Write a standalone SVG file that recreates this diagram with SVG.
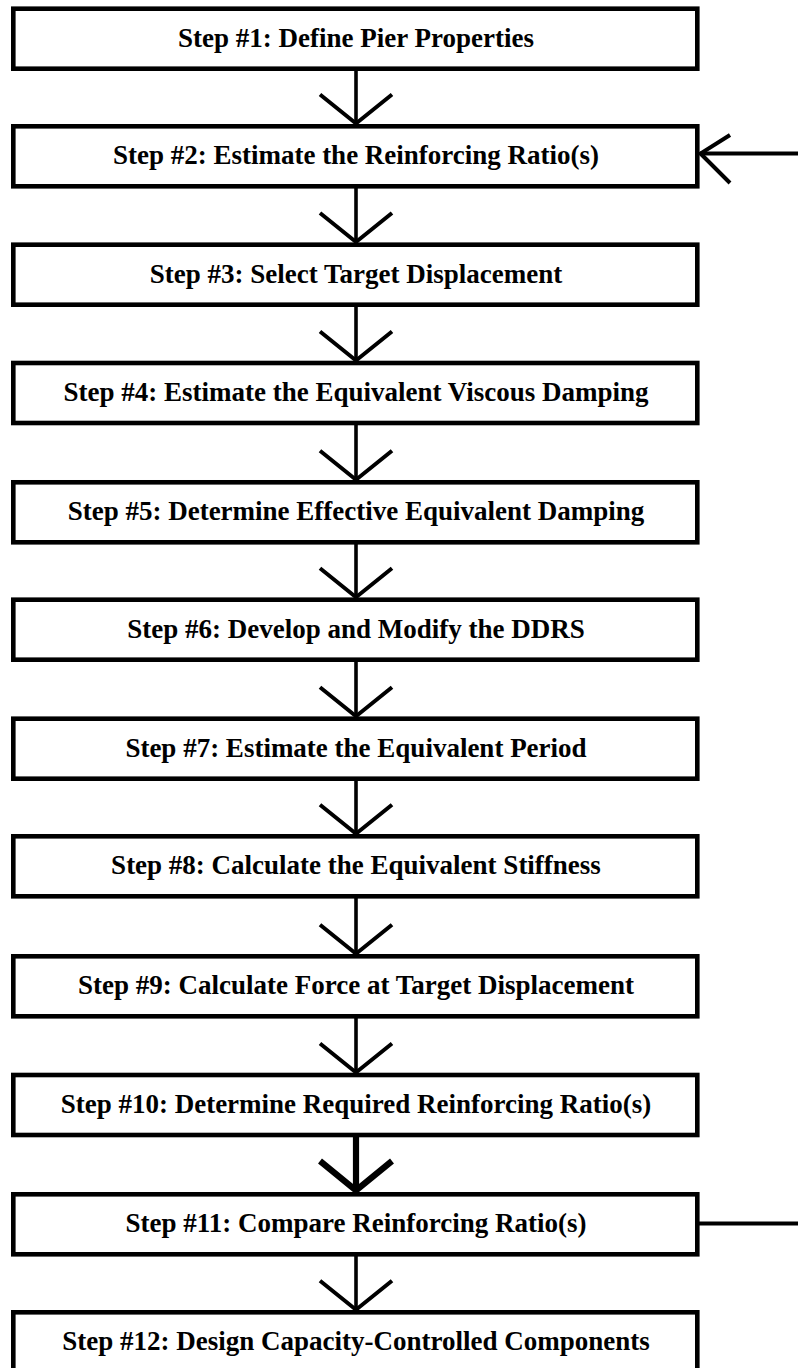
<svg xmlns="http://www.w3.org/2000/svg" width="798" height="1368" viewBox="0 0 798 1368">
<style>
.box{fill:#fff;stroke:#000;stroke-width:4.6}
.t{font-family:"Liberation Serif","Times New Roman",serif;font-weight:bold;font-size:27px;fill:#000;text-anchor:middle}
.c{fill:none;stroke:#000;stroke-width:3.6;stroke-linecap:butt}
.ah{fill:none;stroke:#000;stroke-width:4}
.cb{fill:none;stroke:#000;stroke-width:6.2}
</style>
<rect width="798" height="1368" fill="#fff"/>
<g id="connectors">
<line class="c" x1="356" y1="68.7" x2="356" y2="123.5"/><path class="ah" d="M320,94.5 L356,123.5 L392,94.5"/>
<line class="c" x1="356" y1="186.3" x2="356" y2="242"/><path class="ah" d="M320,213 L356,242 L392,213"/>
<line class="c" x1="356" y1="304.7" x2="356" y2="360.5"/><path class="ah" d="M320,331.5 L356,360.5 L392,331.5"/>
<line class="c" x1="356" y1="423" x2="356" y2="479.8"/><path class="ah" d="M320,450.8 L356,479.8 L392,450.8"/>
<line class="c" x1="356" y1="542.3" x2="356" y2="597.2"/><path class="ah" d="M320,568.2 L356,597.2 L392,568.2"/>
<line class="c" x1="356" y1="659.7" x2="356" y2="716.2"/><path class="ah" d="M320,687.2 L356,716.2 L392,687.2"/>
<line class="c" x1="356" y1="778.7" x2="356" y2="833.8"/><path class="ah" d="M320,804.8 L356,833.8 L392,804.8"/>
<line class="c" x1="356" y1="896.3" x2="356" y2="953.8"/><path class="ah" d="M320,924.8 L356,953.8 L392,924.8"/>
<line class="c" x1="356" y1="1016.3" x2="356" y2="1072.5"/><path class="ah" d="M320,1043.5 L356,1072.5 L392,1043.5"/>
<line class="cb" x1="356" y1="1135" x2="356" y2="1191"/><path class="cb" d="M320,1161 L356,1190.5 L392,1161"/>
<line class="c" x1="356" y1="1254.3" x2="356" y2="1309.8"/><path class="ah" d="M320,1280.8 L356,1309.8 L392,1280.8"/>
<line class="ah" x1="700" y1="153.5" x2="798" y2="153.5"/><path class="ah" d="M730,135 L700.5,153.5 L730,183"/>
<line class="ah" x1="699" y1="1223.5" x2="798" y2="1223.5"/>
</g>
<g id="step1"><rect class="box" x="13.3" y="8.7" width="684" height="60"/><text class="t" x="356" y="46.7">Step #1: Define Pier Properties</text></g>
<g id="step2"><rect class="box" x="13.3" y="126.3" width="684" height="60"/><text class="t" x="356" y="164.3">Step #2: Estimate the Reinforcing Ratio(s)</text></g>
<g id="step3"><rect class="box" x="13.3" y="244.7" width="684" height="60"/><text class="t" x="356" y="282.7">Step #3: Select Target Displacement</text></g>
<g id="step4"><rect class="box" x="13.3" y="363" width="684" height="60"/><text class="t" x="356" y="401">Step #4: Estimate the Equivalent Viscous Damping</text></g>
<g id="step5"><rect class="box" x="13.3" y="482.3" width="684" height="60"/><text class="t" x="356" y="520.3">Step #5: Determine Effective Equivalent Damping</text></g>
<g id="step6"><rect class="box" x="13.3" y="599.7" width="684" height="60"/><text class="t" x="356" y="637.7">Step #6: Develop and Modify the DDRS</text></g>
<g id="step7"><rect class="box" x="13.3" y="718.7" width="684" height="60"/><text class="t" x="356" y="756.7">Step #7: Estimate the Equivalent Period</text></g>
<g id="step8"><rect class="box" x="13.3" y="836.3" width="684" height="60"/><text class="t" x="356" y="874.3">Step #8: Calculate the Equivalent Stiffness</text></g>
<g id="step9"><rect class="box" x="13.3" y="956.3" width="684" height="60"/><text class="t" x="356" y="994.3">Step #9: Calculate Force at Target Displacement</text></g>
<g id="step10"><rect class="box" x="13.3" y="1075" width="684" height="60"/><text class="t" x="356" y="1113">Step #10: Determine Required Reinforcing Ratio(s)</text></g>
<g id="step11"><rect class="box" x="13.3" y="1194.3" width="684" height="60"/><text class="t" x="356" y="1232.3">Step #11: Compare Reinforcing Ratio(s)</text></g>
<g id="step12"><rect class="box" x="13.3" y="1312.3" width="684" height="60"/><text class="t" x="356" y="1350.3">Step #12: Design Capacity-Controlled Components</text></g>
</svg>
